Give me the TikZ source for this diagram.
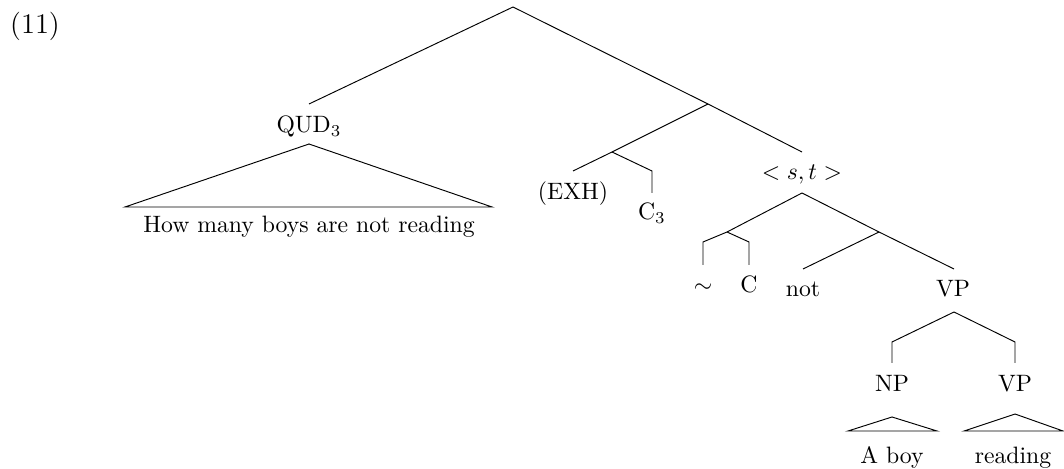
\documentclass[tikz,border=0pt]{standalone}
\begin{document}
\begin{tikzpicture}[x=0.4219pt,y=-0.4219pt,
  branch/.style={line width=0.4pt,line join=miter},
  lbl/.style={inner sep=0pt,anchor=base}]
\useasboundingbox (0,0) rectangle (1064,469);

% example number
\node[lbl,font=\large] (num) at (35,34) {(11)};

% branching points and branch ends
\coordinate (root) at (513,7);
\coordinate (qudT) at (309,104);
\coordinate (n1) at (708,104);
\coordinate (n2) at (612,152);
\coordinate (stT) at (802,152);
\coordinate (exhT) at (573,171);
\coordinate (c3a) at (652,171);
\coordinate (c3b) at (652,193);
\coordinate (stB) at (802,193);
\coordinate (n3) at (727,232);
\coordinate (n4) at (879,232);
\coordinate (tA) at (703,242);
\coordinate (tB) at (703,265);
\coordinate (cA) at (749,242);
\coordinate (cB) at (749,265);
\coordinate (notT) at (803,269);
\coordinate (vpT) at (954,269);
\coordinate (vpB) at (954,312);
\coordinate (npA) at (892,342);
\coordinate (npB) at (892,363);
\coordinate (vqA) at (1015,342);
\coordinate (vqB) at (1015,363);

% triangle corners
\coordinate (q1) at (309,144);
\coordinate (q2) at (125,207);
\coordinate (q3) at (492,207);
\coordinate (a1) at (892,417);
\coordinate (a2) at (848,431);
\coordinate (a3) at (937,431);
\coordinate (r1) at (1015,414);
\coordinate (r2) at (964,431);
\coordinate (r3) at (1063,431);

% labels
\node[lbl] (qud) at (309,133) {QUD$_3$};
\node[lbl] (qudtxt) at (309,233) {How many boys are not reading};
\node[lbl] (exh) at (573,200) {(EXH)};
\node[lbl] (c3) at (652,220) {C$_3$};
\node[lbl] (st) at (802,180) {$< s,t >$};
\node[lbl] (tilde) at (703,293) {$\sim$};
\node[lbl] (c) at (749,293) {C};
\node[lbl] (not) at (803,297) {not};
\node[lbl] (vp) at (953,297) {VP};
\node[lbl] (np) at (892,392) {NP};
\node[lbl] (vp2) at (1015,392) {VP};
\node[lbl] (aboy) at (892,464) {A boy};
\node[lbl] (reading) at (1013,464) {reading};

% branches
\draw[branch] (root) -- (qudT);
\draw[branch] (root) -- (n1);
\draw[branch] (n1) -- (n2);
\draw[branch] (n1) -- (stT);
\draw[branch] (n2) -- (exhT);
\draw[branch] (n2) -- (c3a) -- (c3b);
\draw[branch] (stB) -- (n3);
\draw[branch] (stB) -- (n4);
\draw[branch] (n3) -- (tA) -- (tB);
\draw[branch] (n3) -- (cA) -- (cB);
\draw[branch] (n4) -- (notT);
\draw[branch] (n4) -- (vpT);
\draw[branch] (vpB) -- (npA) -- (npB);
\draw[branch] (vpB) -- (vqA) -- (vqB);

% roofs
\draw[branch] (q1) -- (q2) -- (q3) -- cycle;
\draw[branch] (a1) -- (a2) -- (a3) -- cycle;
\draw[branch] (r1) -- (r2) -- (r3) -- cycle;
\end{tikzpicture}
\end{document}
